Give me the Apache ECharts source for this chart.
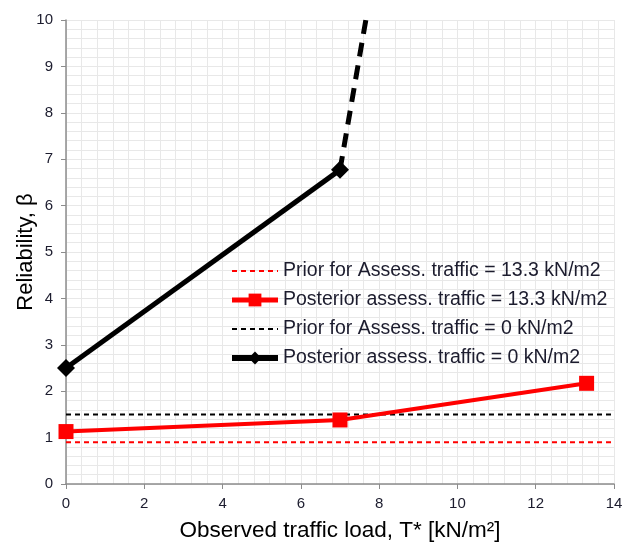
<!DOCTYPE html>
<html><head><meta charset="utf-8">
<script src="https://cdn.jsdelivr.net/npm/echarts@6/dist/echarts.min.js"></script>
<style>html,body{margin:0;padding:0;background:#fff}#c{width:622px;height:542px}</style>
</head><body><div id="c"></div>
<script>
// Data
const xTicks = [0, 2, 4, 6, 8, 10, 12, 14];
const yTicks = [0, 1, 2, 3, 4, 5, 6, 7, 8, 9, 10];
const priorRed = [[0, 0.9], [14, 0.9]];
const posteriorRed = [[0, 1.13], [7, 1.38], [13.3, 2.17]];
const priorBlack = [[0, 1.5], [14, 1.5]];
const posteriorBlack = [[0, 2.5], [7, 6.77]];
const posteriorBlackExtension = [[7, 6.77], [13.3, 37.6]];

const names = [
  'Prior for Assess. traffic = 13.3 kN/m2',
  'Posterior assess. traffic = 13.3 kN/m2',
  'Prior for Assess. traffic = 0 kN/m2',
  'Posterior assess. traffic = 0 kN/m2'
];
const txt = '#1c1c2e';
const font = 'Arial, Liberation Sans';
const chart = echarts.init(document.getElementById('c'));
chart.setOption({
  animation: false,
  backgroundColor: '#fff',
  grid: { left: 66, right: 8, top: 20, bottom: 58, outerBoundsMode: 'none', containLabel: false },
  legend: {
    orient: 'vertical', left: 229, top: 261, padding: 0,
    itemWidth: 46, itemHeight: 16, itemGap: 9,
    textStyle: { fontFamily: font, fontSize: 19.5, color: txt },
    data: [
      { name: names[0], itemStyle: { opacity: 0 }, lineStyle: { width: 2 } },
      { name: names[1], lineStyle: { width: 5 } },
      { name: names[2], itemStyle: { opacity: 0 }, lineStyle: { width: 2 } },
      { name: names[3], lineStyle: { width: 6 } }
    ]
  },
  xAxis: {
    type: 'value', min: 0, max: 14, interval: 2,
    name: 'Observed traffic load, T* [kN/m²]', nameLocation: 'middle', nameGap: 35,
    nameMoveOverlap: false,
    nameTextStyle: { fontFamily: font, fontSize: 22.5, color: '#000' },
    axisLine: { show: true, lineStyle: { color: '#8c8c8c', width: 1.5 } },
    axisTick: { show: true, length: 5, lineStyle: { color: '#8c8c8c' } },
    axisLabel: { fontFamily: font, fontSize: 15, color: txt, margin: 12 },
    splitLine: { show: true, lineStyle: { color: '#e8e8e8', width: 1 } },
    minorTick: { show: false, splitNumber: 5 },
    minorSplitLine: { show: true, lineStyle: { color: '#e8e8e8', width: 1 } }
  },
  yAxis: {
    type: 'value', min: 0, max: 10, interval: 1,
    name: 'Reliability, β', nameLocation: 'middle', nameGap: 29,
    nameMoveOverlap: false,
    nameTextStyle: { fontFamily: font, fontSize: 22, color: '#000' },
    axisLine: { show: true, lineStyle: { color: '#8c8c8c', width: 1.5 } },
    axisTick: { show: true, length: 5, lineStyle: { color: '#8c8c8c' } },
    axisLabel: { fontFamily: font, fontSize: 15, color: txt, margin: 13 },
    splitLine: { show: true, lineStyle: { color: '#e8e8e8', width: 1 } },
    minorTick: { show: false, splitNumber: 5 },
    minorSplitLine: { show: true, lineStyle: { color: '#e8e8e8', width: 1 } }
  },
  series: [
    { name: names[0], type: 'line', data: priorRed, symbol: 'none',
      lineStyle: { color: '#ff0000', width: 2, type: [5, 4] }, itemStyle: { color: '#ff0000' } },
    { name: names[2], type: 'line', data: priorBlack, symbol: 'none',
      lineStyle: { color: '#000', width: 2, type: [5, 4] }, itemStyle: { color: '#000' } },
    { name: names[3] + ' ext', type: 'line', data: posteriorBlackExtension, symbol: 'none', clip: true,
      lineStyle: { color: '#000', width: 5, type: [14, 9] }, itemStyle: { color: '#000' } },
    { name: names[3], type: 'line', data: posteriorBlack, symbol: 'diamond', symbolSize: 18,
      lineStyle: { color: '#000', width: 5 }, itemStyle: { color: '#000' } },
    { name: names[1], type: 'line', data: posteriorRed, symbol: 'rect', symbolSize: 15,
      lineStyle: { color: '#ff0000', width: 4 }, itemStyle: { color: '#ff0000' } }
  ]
});
</script></body></html>
